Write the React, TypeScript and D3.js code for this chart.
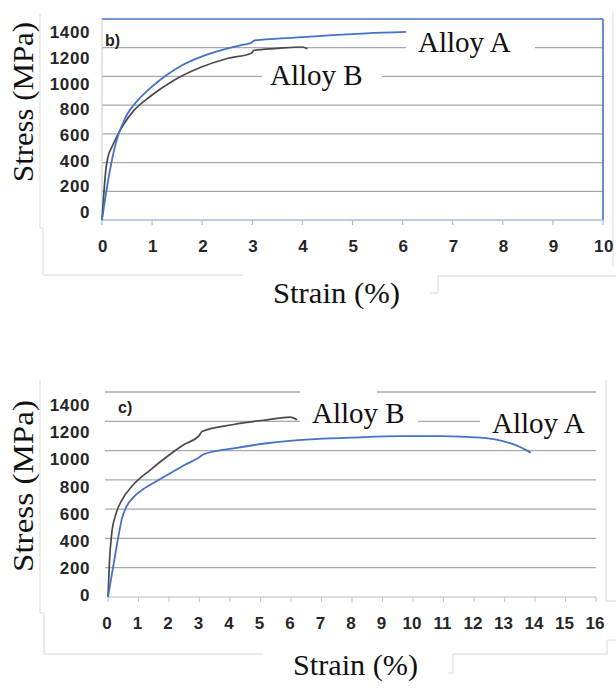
import React from 'react';
import * as d3 from 'd3';

// ---------- DATA ----------
const stressTicks = [0, 200, 400, 600, 800, 1000, 1200, 1400];
const strainTicksB = [0, 1, 2, 3, 4, 5, 6, 7, 8, 9, 10];
const strainTicksC = [0, 1, 2, 3, 4, 5, 6, 7, 8, 9, 10, 11, 12, 13, 14, 15, 16];

// panel b)
const bAlloyAStrain = [0, 0.1, 0.2, 0.3, 0.4, 0.5, 0.7, 1.0, 1.3, 1.6, 2.0, 2.4, 2.8, 2.98, 3.03, 3.5, 4.15, 4.6, 5.28, 6.07];
const bAlloyAStress = [0, 230, 420, 565, 660, 735, 828, 930, 1012, 1078, 1140, 1185, 1220, 1234, 1250, 1263, 1277, 1287, 1300, 1310];
const bAlloyBStrain = [0, 0.04, 0.08, 0.12, 0.2, 0.3, 0.43, 0.63, 0.96, 1.42, 1.96, 2.5, 2.98, 3.03, 3.5, 4.0, 4.1];
const bAlloyBStress = [0, 200, 360, 440, 510, 585, 665, 760, 860, 970, 1062, 1125, 1162, 1182, 1195, 1205, 1192];

// panel c)
const cAlloyAStrain = [0, 0.17, 0.34, 0.45, 0.6, 0.85, 1.16, 1.6, 2.0, 2.5, 2.98, 3.13, 4.12, 5.21, 6.64, 7.95, 9.59, 10.9, 12.2, 12.88, 13.43, 13.86];
const cAlloyAStress = [0, 207, 412, 530, 615, 685, 737, 792, 840, 900, 952, 974, 1015, 1050, 1077, 1088, 1099, 1099, 1088, 1068, 1032, 986];
const cAlloyBStrain = [0, 0.05, 0.12, 0.25, 0.45, 0.8, 1.38, 1.93, 2.48, 2.98, 3.08, 4.12, 5.21, 5.98, 6.2];
const cAlloyBStress = [0, 250, 430, 560, 660, 760, 867, 958, 1040, 1100, 1130, 1178, 1210, 1228, 1210];

const seriesNames = ['Alloy A', 'Alloy B'];
const panelLabels = ['b)', 'c)'];
const xTitle = 'Strain (%)';
const yTitle = 'Stress (MPa)';

// ---------- STYLE ----------
const serif = "'Liberation Serif', 'Times New Roman', serif";
const sans = "'Liberation Sans', Arial, sans-serif";
const BLUE = '#4472c4';
const DARK = '#4a4a4a';
const GRID = '#a8a8a8';
const FRAME = '#d8d8d8';

const zip = (a: number[], b: number[]) => a.map((v, i) => [v, b[i]] as [number, number]);

export default function App() {
  // ----- panel b scales -----
  const xb = d3.scaleLinear().domain([0, 10]).range([102, 603]);
  const yb = d3.scaleLinear().domain([0, 1400]).range([220, 19]);
  const ybLab = d3.scaleLinear().domain([0, 1400]).range([212, 32]);
  // ----- panel c scales -----
  const xc = d3.scaleLinear().domain([0, 16]).range([108, 596]);
  const yc = d3.scaleLinear().domain([0, 1400]).range([597, 392]);
  const ycLab = d3.scaleLinear().domain([0, 1400]).range([595, 405]);

  const lineB = d3.line<[number, number]>().x(d => xb(d[0])).y(d => yb(d[1])).curve(d3.curveMonotoneX);
  const lineC = d3.line<[number, number]>().x(d => xc(d[0])).y(d => yc(d[1])).curve(d3.curveMonotoneX);

  const tickFont = { fontFamily: sans, fontWeight: 700, fontSize: 17, fill: '#262626', letterSpacing: 0.6 } as const;
  const bigFont = { fontFamily: serif, fontSize: 29, fill: '#111' } as const;

  return (
    <svg width={616} height={689} style={{ position: 'absolute', left: 0, top: 0, background: '#fff' }}>
      <rect x={0} y={0} width={616} height={689} fill="#fff" />

      {/* ================= PANEL b ================= */}
      <polyline points="40,14 40,228 43,228 43,275 243,275" fill="none" stroke={FRAME} strokeWidth={1} />
      <polyline points="613,12 613,265" fill="none" stroke={FRAME} strokeWidth={1} />
      <polyline points="616,276 438,276 438,293 430,293" fill="none" stroke={FRAME} strokeWidth={1} />

      {stressTicks.filter(t => t > 0 && t < 1400).map(t => (
        <line key={'gb' + t} x1={xb(0)} x2={xb(10)} y1={yb(t)} y2={yb(t)} stroke={GRID} strokeWidth={1.3} />
      ))}
      <line x1={xb(0)} x2={xb(10)} y1={yb(1400)} y2={yb(1400)} stroke={BLUE} strokeWidth={1.6} />
      <line x1={xb(10)} x2={xb(10)} y1={yb(1400)} y2={yb(0)} stroke={BLUE} strokeWidth={1.6} />
      <line x1={xb(0)} x2={xb(0)} y1={yb(1400)} y2={yb(0)} stroke="#c8c8c8" strokeWidth={1} />
      <line x1={xb(0)} x2={xb(10)} y1={yb(0)} y2={yb(0)} stroke="#a9bde0" strokeWidth={1.5} />
      {strainTicksB.map(t => (
        <line key={'tb' + t} x1={xb(t)} x2={xb(t)} y1={yb(0)} y2={yb(0) + 5} stroke="#a9bde0" strokeWidth={1.2} />
      ))}

      <rect x={406} y={24} width={129} height={34} fill="#fff" />
      <rect x={262} y={58} width={120} height={32} fill="#fff" />

      <path d={lineB(zip(bAlloyBStrain, bAlloyBStress)) || ''} fill="none" stroke={DARK} strokeWidth={1.7} />
      <path d={lineB(zip(bAlloyAStrain, bAlloyAStress)) || ''} fill="none" stroke={BLUE} strokeWidth={1.8} />

      {stressTicks.map(t => (
        <text key={'ylb' + t} x={90} y={ybLab(t)} dy="0.36em" textAnchor="end" {...tickFont}>{t}</text>
      ))}
      {strainTicksB.map(t => (
        <text key={'xlb' + t} x={xb(t) + 1} y={252} textAnchor="middle" {...tickFont}>{t}</text>
      ))}

      <text x={105} y={46} fontFamily={sans} fontWeight={700} fontSize={16} fill="#222">{panelLabels[0]}</text>
      <text x={418} y={52} {...bigFont}>{seriesNames[0]}</text>
      <text x={270} y={85} {...bigFont}>{seriesNames[1]}</text>

      <text transform="translate(33,102) rotate(-90)" textAnchor="middle" textLength={160} lengthAdjust="spacingAndGlyphs" {...bigFont}>{yTitle}</text>
      <text x={273} y={303} textLength={127} lengthAdjust="spacingAndGlyphs" {...bigFont}>{xTitle}</text>

      {/* ================= PANEL c ================= */}
      <polyline points="40,380 40,613 44,613 44,654 263,654" fill="none" stroke={FRAME} strokeWidth={1} />
      <polyline points="606,380 606,601 616,601" fill="none" stroke={FRAME} strokeWidth={1} />
      <polyline points="616,640 607,640 607,654 453,654 453,673 448,673" fill="none" stroke={FRAME} strokeWidth={1} />

      {stressTicks.filter(t => t > 0).map(t => (
        <line key={'gc' + t} x1={xc(0) - 3} x2={xc(16)} y1={yc(t)} y2={yc(t)} stroke={GRID} strokeWidth={1.3} />
      ))}
      <line x1={xc(0)} x2={xc(16)} y1={yc(0)} y2={yc(0)} stroke="#d0d0d0" strokeWidth={1.5} />
      {strainTicksC.map(t => (
        <line key={'tc' + t} x1={xc(t)} x2={xc(t)} y1={yc(0)} y2={yc(0) + 5} stroke="#c8c8c8" strokeWidth={1.2} />
      ))}

      <rect x={300} y={386} width={77} height={12} fill="#fff" />
      <rect x={300} y={398} width={118} height={31} fill="#fff" />
      <rect x={480} y={400} width={120} height={34} fill="#fff" />

      <path d={lineC(zip(cAlloyBStrain, cAlloyBStress)) || ''} fill="none" stroke={DARK} strokeWidth={1.7} />
      <path d={lineC(zip(cAlloyAStrain, cAlloyAStress)) || ''} fill="none" stroke={BLUE} strokeWidth={1.8} />

      {stressTicks.map(t => (
        <text key={'ylc' + t} x={90} y={ycLab(t)} dy="0.36em" textAnchor="end" {...tickFont}>{t}</text>
      ))}
      {strainTicksC.map(t => (
        <text key={'xlc' + t} x={xc(t) - 1} y={629} textAnchor="middle" {...tickFont} letterSpacing={0}>{t}</text>
      ))}

      <text x={118} y={413} fontFamily={sans} fontWeight={700} fontSize={16} fill="#222">{panelLabels[1]}</text>
      <text x={312} y={423} {...bigFont}>{seriesNames[1]}</text>
      <text x={492} y={433} {...bigFont}>{seriesNames[0]}</text>

      <text transform="translate(33,486) rotate(-90)" textAnchor="middle" textLength={172} lengthAdjust="spacingAndGlyphs" {...bigFont}>{yTitle}</text>
      <text x={293} y={675} textLength={125} lengthAdjust="spacingAndGlyphs" {...bigFont}>{xTitle}</text>
    </svg>
  );
}
